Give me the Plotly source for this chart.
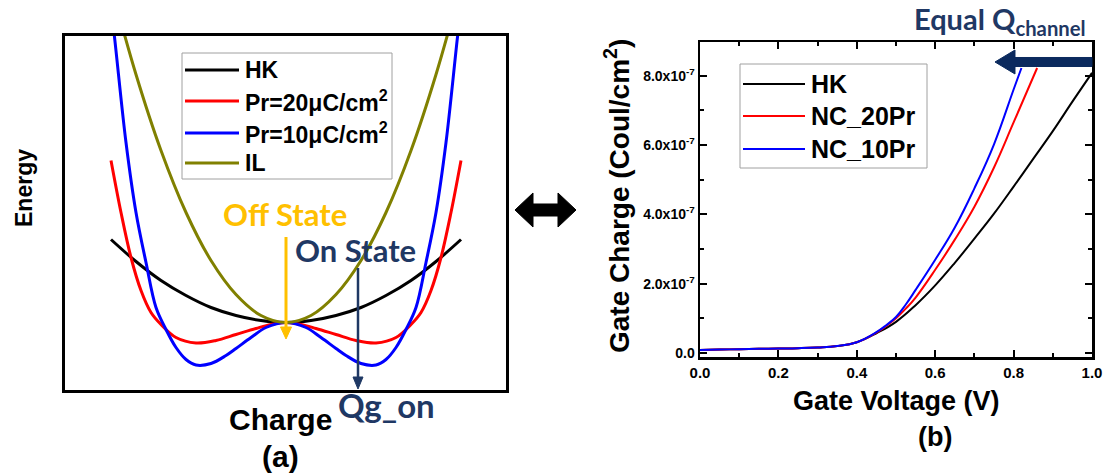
import plotly.graph_objects as go

W, H = 1105, 476

# ---------------- data: panel (a) energy landscapes ----------------
charge_q = [-1.75, -1.5, -1.25, -1.0, -0.75, -0.5, -0.25, 0.0, 0.25, 0.5, 0.75, 1.0, 1.25, 1.5, 1.75]
energy_hk = [0.83, 0.61, 0.42, 0.27, 0.15, 0.07, 0.02, 0.0, 0.02, 0.07, 0.15, 0.27, 0.42, 0.61, 0.83]
energy_il = [3.37, 2.48, 1.72, 1.10, 0.62, 0.28, 0.07, 0.0, 0.07, 0.28, 0.62, 1.10, 1.72, 2.48, 3.37]

charge_pr20 = [-1.75, -1.65, -1.55, -1.45, -1.35, -1.25, -1.1, -0.9, -0.7, -0.5, -0.3, -0.15, 0.0,
               0.15, 0.3, 0.5, 0.7, 0.9, 1.1, 1.25, 1.35, 1.45, 1.55, 1.65, 1.75]
energy_pr20 = [1.62, 1.10, 0.65, 0.32, 0.10, -0.02, -0.15, -0.205, -0.18, -0.12, -0.06, -0.02, 0.0,
               -0.02, -0.06, -0.12, -0.18, -0.205, -0.15, -0.02, 0.10, 0.32, 0.65, 1.10, 1.62]

charge_pr10 = [-1.78, -1.72, -1.6, -1.5, -1.4, -1.3, -1.2, -1.1, -1.0, -0.9, -0.75, -0.6, -0.5, -0.35, -0.2, 0.0,
               0.2, 0.35, 0.5, 0.6, 0.75, 0.9, 1.0, 1.1, 1.2, 1.3, 1.4, 1.5, 1.6, 1.72, 1.78]
energy_pr10 = [3.4, 2.9, 1.8, 1.1, 0.6, 0.15, -0.07, -0.25, -0.37, -0.425, -0.41, -0.33, -0.26, -0.15, -0.05, 0.0,
               -0.05, -0.15, -0.26, -0.33, -0.41, -0.425, -0.37, -0.25, -0.07, 0.15, 0.6, 1.1, 1.8, 2.9, 3.4]

# ---------------- data: panel (b) gate charge vs gate voltage ----------------
volt_hk = [0.0, 0.05, 0.1, 0.15, 0.2, 0.25, 0.3, 0.35, 0.4, 0.45, 0.5, 0.55, 0.6, 0.65, 0.7, 0.75, 0.8, 0.85, 0.9, 0.95, 1.0]
qg_hk = [0.09, 0.10, 0.11, 0.12, 0.13, 0.14, 0.16, 0.20, 0.31, 0.57, 0.90, 1.38, 1.95, 2.60, 3.30, 4.02, 4.80, 5.60, 6.40, 7.25, 8.08]
volt_20 = [0.0, 0.05, 0.1, 0.15, 0.2, 0.25, 0.3, 0.35, 0.4, 0.45, 0.475, 0.5, 0.525, 0.55, 0.6, 0.65, 0.7, 0.75, 0.8, 0.86]
qg_20 = [0.09, 0.10, 0.11, 0.12, 0.13, 0.14, 0.16, 0.20, 0.31, 0.59, 0.78, 1.00, 1.28, 1.60, 2.40, 3.27, 4.22, 5.35, 6.65, 8.22]
volt_10 = [0.0, 0.05, 0.1, 0.15, 0.2, 0.25, 0.3, 0.35, 0.4, 0.45, 0.475, 0.5, 0.525, 0.55, 0.6, 0.65, 0.7, 0.75, 0.8, 0.82]
qg_10 = [0.09, 0.10, 0.11, 0.12, 0.13, 0.14, 0.16, 0.20, 0.31, 0.60, 0.80, 1.04, 1.40, 1.82, 2.69, 3.62, 4.75, 6.02, 7.60, 8.22]
qg_scale = 1e-7

ytick_vals = [0.0, 2.0, 4.0, 6.0, 8.0]
ytick_text = ["0.0", "2.0x10<sup>-7</sup>", "4.0x10<sup>-7</sup>", "6.0x10<sup>-7</sup>", "8.0x10<sup>-7</sup>"]
xtick_vals = [0.0, 0.2, 0.4, 0.6, 0.8, 1.0]
xtick_text = ["0.0", "0.2", "0.4", "0.6", "0.8", "1.0"]

legend_a = ["HK", "Pr=20\u03bcC/cm<sup>2</sup>", "Pr=10\u03bcC/cm<sup>2</sup>", "IL"]
legend_b = ["HK", "NC_20Pr", "NC_10Pr"]

C_BLACK, C_RED, C_BLUE, C_OLIVE = "#000000", "#FF0000", "#0000FF", "#808000"
C_GOLD, C_NAVY = "#FFC000", "#1F3864"
ARIAL = "Liberation Sans, Arial, sans-serif"
CAL = "Lato, Open Sans, sans-serif"


def px(x):
    return x / W


def py(y):
    return 1 - y / H


fig = go.Figure()

# panel (a)
for xs, ys, col in [(charge_q, energy_hk, C_BLACK), (charge_pr20, energy_pr20, C_RED),
                    (charge_pr10, energy_pr10, C_BLUE), (charge_q, energy_il, C_OLIVE)]:
    fig.add_trace(go.Scatter(x=xs, y=ys, mode="lines", line=dict(color=col, width=3, shape="spline", smoothing=1.0),
                             showlegend=False, xaxis="x", yaxis="y", hoverinfo="skip"))

# panel (b)
for xs, ys, col in [(volt_hk, qg_hk, C_BLACK), (volt_20, qg_20, C_RED), (volt_10, qg_10, C_BLUE)]:
    fig.add_trace(go.Scatter(x=xs, y=[v * qg_scale for v in ys], mode="lines",
                             line=dict(color=col, width=2, shape="spline", smoothing=1.2),
                             showlegend=False, xaxis="x2", yaxis="y2", hoverinfo="skip"))

shapes = []
annotations = []

# custom legend (a)
shapes.append(dict(type="rect", xref="paper", yref="paper", x0=px(182), x1=px(392), y0=py(179), y1=py(53),
                   line=dict(color="#A0A0A0", width=1), fillcolor="white", layer="below"))
for i, (name, col) in enumerate(zip(legend_a, [C_BLACK, C_RED, C_BLUE, C_OLIVE])):
    yy = [70, 101, 133, 163][i]
    shapes.append(dict(type="line", xref="paper", yref="paper", x0=px(185), x1=px(239), y0=py(yy), y1=py(yy),
                       line=dict(color=col, width=3)))
    annotations.append(dict(text="<b>%s</b>" % name, xref="paper", yref="paper", x=px(243), y=py(yy),
                            xanchor="left", yanchor="middle", showarrow=False,
                            font=dict(family=ARIAL, size=23, color="black")))

# custom legend (b)
shapes.append(dict(type="rect", xref="paper", yref="paper", x0=px(740), x1=px(927), y0=py(168), y1=py(64),
                   line=dict(color="#A0A0A0", width=1), fillcolor="white", layer="below"))
for i, (name, col) in enumerate(zip(legend_b, [C_BLACK, C_RED, C_BLUE])):
    yy = [84, 116, 149][i]
    shapes.append(dict(type="line", xref="paper", yref="paper", x0=px(743), x1=px(805), y0=py(yy), y1=py(yy),
                       line=dict(color=col, width=2)))
    annotations.append(dict(text="<b>%s</b>" % name, xref="paper", yref="paper", x=px(809), y=py(yy),
                            xanchor="left", yanchor="middle", showarrow=False,
                            font=dict(family=ARIAL, size=25, color="black")))

# arrows in panel (a)
shapes.append(dict(type="line", xref="paper", yref="paper", x0=px(286), x1=px(286), y0=py(237), y1=py(330),
                   line=dict(color=C_GOLD, width=3)))
shapes.append(dict(type="path", xref="paper", yref="paper",
                   path="M%f,%f L%f,%f L%f,%f Z" % (px(280.5), py(327), px(291.5), py(327), px(286), py(339)),
                   fillcolor=C_GOLD, line=dict(color=C_GOLD, width=1)))
shapes.append(dict(type="line", xref="paper", yref="paper", x0=px(358), x1=px(358), y0=py(268), y1=py(380),
                   line=dict(color=C_NAVY, width=2.5)))
shapes.append(dict(type="path", xref="paper", yref="paper",
                   path="M%f,%f L%f,%f L%f,%f Z" % (px(353), py(377), px(363), py(377), px(358), py(389)),
                   fillcolor=C_NAVY, line=dict(color=C_NAVY, width=1)))

# double arrow between panels
pts = [(515, 210), (533, 193), (533, 204), (558, 204), (558, 193), (576, 210), (558, 227), (558, 216),
       (533, 216), (533, 227)]
path = "M" + " L".join("%f,%f" % (px(a), py(b)) for a, b in pts) + " Z"
shapes.append(dict(type="path", xref="paper", yref="paper", path=path, fillcolor="black",
                   line=dict(color="black", width=1)))

# thick navy arrow in panel (b)
pts = [(995, 62), (1015, 50), (1015, 57.5), (1092, 57.5), (1092, 66.5), (1015, 66.5), (1015, 74)]
path = "M" + " L".join("%f,%f" % (px(a), py(b)) for a, b in pts) + " Z"
shapes.append(dict(type="path", xref="paper", yref="paper", path=path, fillcolor="#0B2A5E",
                   line=dict(color="#0B2A5E", width=1)))


# texts
def txt(t, x, y, size, color="black", family=ARIAL, angle=0, xanchor="center"):
    annotations.append(dict(text=t, xref="paper", yref="paper", x=px(x), y=py(y), xanchor=xanchor,
                            yanchor="middle", showarrow=False, textangle=angle,
                            font=dict(family=family, size=size, color=color)))


txt("<b>Off State</b>", 285, 214, 31, C_GOLD, CAL)
txt("<b>On State</b>", 355, 250, 31, C_NAVY, CAL)
txt("<b>Qg_on</b>", 386, 405, 33, C_NAVY, CAL)
txt("<b>Charge</b>", 280, 419, 30)
txt("<b>(a)</b>", 280, 456, 30)
txt("<b>Energy</b>", 24, 188, 23, angle=-90)
txt("<b>(b)</b>", 935, 437, 27)
txt("<b>Equal Q<sub>channel</sub></b>", 1088, 21, 29, C_NAVY, CAL, xanchor="right")
txt("<b>Gate Voltage (V)</b>", 896, 401, 27)
txt("<b>Gate Charge (Coul/cm<sup>2</sup>)</b>", 617, 196, 28, angle=-90)

fig.update_layout(
    width=W, height=H, margin=dict(l=0, r=0, t=0, b=0, pad=0, autoexpand=False),
    paper_bgcolor="white", plot_bgcolor="white", showlegend=False, hovermode=False,
    shapes=shapes, annotations=annotations,
    xaxis=dict(domain=[px(65), px(506)], range=[-2.21, 2.20], showline=True, mirror=True, linecolor="black",
               linewidth=3, showticklabels=False, ticks="", showgrid=False, zeroline=False, automargin=False),
    yaxis=dict(domain=[py(390), py(36)], range=[-0.675, 2.865], showline=True, mirror=True, linecolor="black",
               linewidth=3, showticklabels=False, ticks="", showgrid=False, zeroline=False, automargin=False),
    xaxis2=dict(domain=[px(700), px(1092)], range=[0, 1.0], anchor="y2", showline=True, mirror="ticks",
                linecolor="black", linewidth=2.5, ticks="inside", ticklen=7, tickwidth=2, tickcolor="black",
                tickvals=xtick_vals, ticktext=["<b>%s</b>" % t for t in xtick_text],
                tickfont=dict(family=ARIAL, size=15, color="black"), automargin=False,
                minor=dict(dtick=0.1, tick0=0, ticks="inside", ticklen=4, tickwidth=2, tickcolor="black"),
                showgrid=False, zeroline=False),
    yaxis2=dict(domain=[py(357), py(42)], range=[-0.115e-7, 8.97e-7], anchor="x2", showline=True, mirror="ticks",
                linecolor="black", linewidth=2.5, ticks="inside", ticklen=7, tickwidth=2, tickcolor="black",
                tickvals=[v * qg_scale for v in ytick_vals], ticktext=["<b>%s</b>" % t for t in ytick_text],
                tickfont=dict(family=ARIAL, size=14, color="black"), automargin=False,
                minor=dict(dtick=1e-7, tick0=0, ticks="inside", ticklen=4, tickwidth=2, tickcolor="black"),
                showgrid=False, zeroline=False),
)

fig.write_html("out.html", config={"displayModeBar": False, "staticPlot": True},
               post_script="document.body.style.margin='0px';document.body.style.overflow='hidden';")
